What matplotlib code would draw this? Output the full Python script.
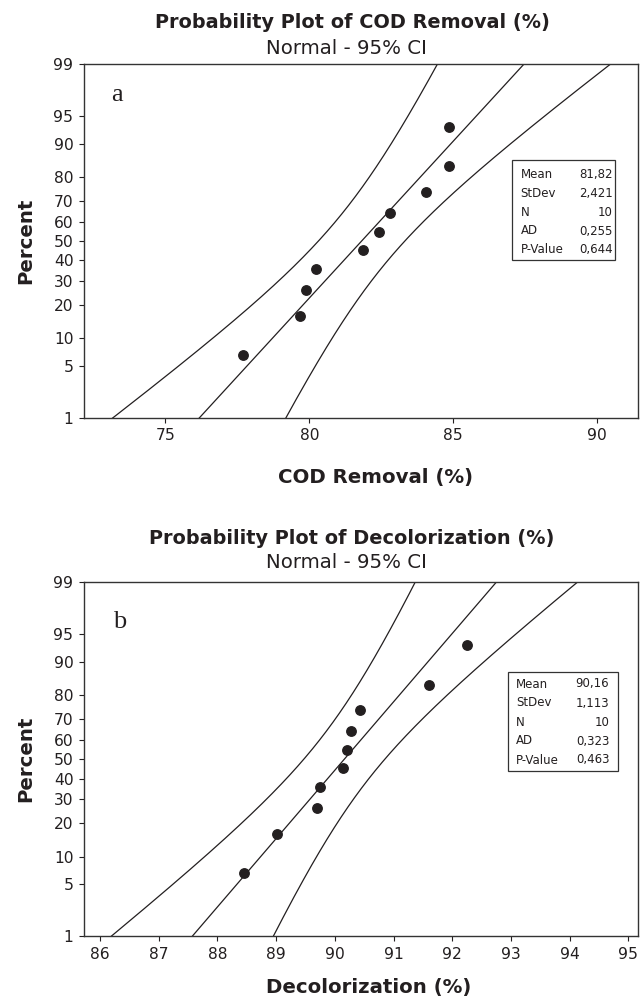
import numpy as np
import matplotlib
matplotlib.use("Agg")
import matplotlib.pyplot as plt
from matplotlib.patches import Rectangle
from statistics import NormalDist

# median-rank plotting positions (%) shared by both samples
percents = [6.7, 16.3, 26.0, 35.6, 45.2, 54.8, 64.4, 74.0, 83.7, 93.3]

# panel a: COD removal (%)
cod_values = [77.69, 79.69, 79.90, 80.23, 81.87, 82.44, 82.80, 84.07, 84.86, 84.86]
cod_stats = {"Mean": 81.82, "StDev": 2.421, "N": 10, "AD": 0.255, "P-Value": 0.644}
cod_ticks = [75, 80, 85, 90]

# panel b: decolorization (%)
dec_values = [88.45, 89.01, 89.70, 89.74, 90.14, 90.20, 90.28, 90.43, 91.60, 92.25]
dec_stats = {"Mean": 90.16, "StDev": 1.113, "N": 10, "AD": 0.323, "P-Value": 0.463}
dec_ticks = [86, 87, 88, 89, 90, 91, 92, 93, 94, 95]

y_ticks = [1, 5, 10, 20, 30, 40, 50, 60, 70, 80, 90, 95, 99]

W, H = 640, 999
ink = "#231f20"
nd = NormalDist()


def _ppf_one(p):
    if not np.isfinite(p):
        return np.nan
    return nd.inv_cdf(min(max(p / 100.0, 1e-9), 1 - 1e-9))


def _cdf_one(z):
    if not np.isfinite(z):
        return np.nan
    return nd.cdf(z) * 100.0


_ppf = np.vectorize(_ppf_one, otypes=[float])
_cdf = np.vectorize(_cdf_one, otypes=[float])


def fmt(k, v):
    if k == "N":
        return str(v)
    if k == "Mean":
        return f"{v:.2f}".replace(".", ",")
    return f"{v:.3f}".replace(".", ",")


def px_axes(l, t, r, b):
    return [l / W, 1 - b / H, (r - l) / W, (b - t) / H]


def panel(fig, rect, values, stats, xlim, xticks, title, xlabel, letter,
          title_y, sub_y, xlabel_pos, letter_pos, box):
    ax = fig.add_axes(px_axes(*rect))
    ax.set_yscale("function", functions=(_ppf, _cdf))

    # fitted normal line and 95% CI for the percentiles
    mean, sd, n = stats["Mean"], stats["StDev"], stats["N"]
    p = np.linspace(0.3, 99.7, 500)
    z = _ppf(p)
    fit = mean + z * sd
    half = 1.96 * sd * np.sqrt(1.0 / n + z ** 2 / (2.0 * (n - 1)))
    for xs in (fit, fit - half, fit + half):
        ax.plot(xs, p, color=ink, lw=0.9)
    ax.plot(values, percents, "o", color=ink, ms=6.8, mec=ink)
    ax.set_ylim(1, 99)
    ax.set_xlim(*xlim)

    ax.set_xticks(xticks)
    ax.set_yticks(y_ticks)
    ax.set_yticklabels([str(t) for t in y_ticks])
    ax.yaxis.set_minor_locator(matplotlib.ticker.NullLocator())
    ax.tick_params(direction="out", length=3.6, width=0.8, colors=ink,
                   labelsize=11.2, pad=4)
    for s in ax.spines.values():
        s.set_color("#333333")
        s.set_linewidth(1.0)

    fig.text(352 / W, 1 - title_y / H, title, ha="center", va="center",
             fontsize=13.9, fontweight="bold", color=ink)
    fig.text(347 / W, 1 - sub_y / H, "Normal - 95% CI", ha="center", va="center",
             fontsize=14.2, color=ink)
    fig.text(xlabel_pos[0] / W, 1 - xlabel_pos[1] / H, xlabel, ha="center",
             va="center", fontsize=14.2, fontweight="bold", color=ink)
    fig.text(26 / W, 1 - (rect[1] + rect[3]) / 2 / H, "Percent", rotation=90,
             ha="center", va="center", fontsize=14.2, fontweight="bold", color=ink)
    fig.text(letter_pos[0] / W, 1 - letter_pos[1] / H, letter, ha="left",
             va="baseline", fontsize=19, family="Liberation Serif", color=ink)

    # statistics box
    bl, bt, br, bb, tl, tr, row0, dy = box
    fig.patches.append(Rectangle((bl / W, 1 - bb / H), (br - bl) / W, (bb - bt) / H,
                                 transform=fig.transFigure, fill=False,
                                 edgecolor="#333333", lw=0.9))
    for i, (k, v) in enumerate(stats.items()):
        y = 1 - (row0 + i * dy) / H
        fig.text(tl / W, y, k, ha="left", va="center", fontsize=8.5, color=ink)
        fig.text(tr / W, y, fmt(k, v), ha="right", va="center", fontsize=8.5, color=ink)
    return ax


fig = plt.figure(figsize=(W / 100, H / 100), dpi=100)

panel(fig, (84, 64.3, 638, 417.7), cod_values, cod_stats, (72.175, 91.42), cod_ticks,
      "Probability Plot of COD Removal (%)", "COD Removal (%)", "a",
      22.5, 48, (376, 478), (111, 100.7),
      (512.3, 160, 615, 260, 520.7, 613, 174.3, 18.9))

panel(fig, (84, 582.3, 638, 936.3), dec_values, dec_stats, (85.727, 95.165), dec_ticks,
      "Probability Plot of Decolorization (%)", "Decolorization (%)", "b",
      538, 563, (369, 987), (112.7, 628.3),
      (508.3, 671.7, 617.7, 771, 516, 609.3, 684, 19.0))

fig.savefig("out.png", dpi=100)
